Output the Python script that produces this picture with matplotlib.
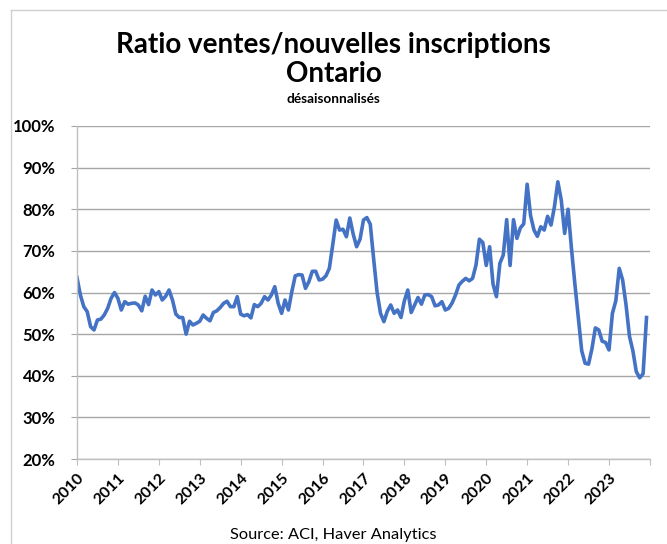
import matplotlib.pyplot as plt
from matplotlib.lines import Line2D
import numpy as np

# ratio ventes / nouvelles inscriptions, mensuel, en %
years = list(range(2010, 2024))
ratio_2010 = [63.6, 59.4, 56.6, 55.4, 51.8, 51.0, 53.4, 53.6, 54.6, 56.2, 58.6, 60.0]
ratio_2011 = [58.6, 55.8, 57.8, 57.2, 57.4, 57.5, 57.0, 55.6, 59.1, 57.1, 60.6, 59.4]
ratio_2012 = [60.2, 58.2, 59.1, 60.6, 58.2, 54.8, 54.0, 54.0, 50.0, 53.1, 52.2, 52.6]
ratio_2013 = [53.1, 54.6, 53.8, 53.2, 55.2, 55.6, 56.4, 57.4, 57.9, 56.6, 56.6, 59.0]
ratio_2014 = [54.8, 54.4, 54.7, 53.9, 57.1, 56.6, 57.4, 59.0, 58.2, 59.4, 61.4, 57.4]
ratio_2015 = [55.0, 58.2, 55.8, 60.2, 64.0, 64.3, 64.2, 61.0, 62.6, 65.1, 65.1, 63.0]
ratio_2016 = [63.2, 64.0, 65.8, 71.5, 77.4, 75.0, 75.2, 73.4, 77.9, 74.0, 71.0, 72.8]
ratio_2017 = [77.4, 78.0, 76.4, 68.0, 60.0, 55.0, 53.0, 55.5, 57.0, 55.0, 55.8, 54.0]
ratio_2018 = [58.0, 60.6, 55.2, 57.0, 58.8, 57.2, 59.4, 59.5, 59.0, 56.8, 57.0, 57.8]
ratio_2019 = [55.8, 56.2, 57.5, 59.4, 61.8, 62.7, 63.4, 62.8, 63.4, 66.6, 72.8, 72.0]
ratio_2020 = [66.5, 71.0, 62.0, 59.0, 67.0, 69.0, 77.5, 66.5, 77.5, 73.0, 75.5, 76.5]
ratio_2021 = [86.0, 78.5, 75.0, 73.5, 75.8, 75.0, 78.3, 76.2, 80.6, 86.6, 82.2, 74.2]
ratio_2022 = [80.0, 70.5, 62.0, 54.0, 46.0, 43.0, 42.8, 46.5, 51.5, 51.0, 48.3, 48.0]
ratio_2023 = [46.2, 55.0, 58.0, 65.8, 63.0, 57.0, 49.5, 46.0, 41.0, 39.5, 40.5, 54.0]

ratio = (ratio_2010 + ratio_2011 + ratio_2012 + ratio_2013 + ratio_2014
         + ratio_2015 + ratio_2016 + ratio_2017 + ratio_2018 + ratio_2019
         + ratio_2020 + ratio_2021 + ratio_2022 + ratio_2023)
dates = [y + m / 12 for y in years for m in range(12)]

year_ticks = list(range(2010, 2025))
year_labels = [str(y) for y in years] + [""]
pct_ticks = list(range(20, 101, 10))

plt.rcParams['font.family'] = ['Lato', 'DejaVu Sans']

fig = plt.figure(figsize=(6.67, 5.44), dpi=100)
ax = fig.add_axes([0.1154, 0.1562, 0.859, 0.6122])

ax.plot(dates, ratio, color="#4472C4", linewidth=2.6, solid_joinstyle="round")

ax.set_xlim(2010, 2024)
ax.set_ylim(20, 100)
ax.set_yticks(pct_ticks)
ax.set_yticklabels([f"{p}%" for p in pct_ticks], fontsize=12, fontweight="bold")
ax.set_xticks(year_ticks)
ax.set_xticklabels(year_labels, fontsize=11.5, fontweight="bold",
                   rotation=45, ha="right", rotation_mode="anchor")

ax.grid(axis="y", color="#a6a6a6", linewidth=1)
ax.set_axisbelow(True)
for side in ["top", "right"]:
    ax.spines[side].set_visible(False)
for side in ["left", "bottom"]:
    ax.spines[side].set_color("#bfbfbf")
    ax.spines[side].set_linewidth(1)
ax.tick_params(axis="y", length=4.5, color="#a6a6a6", pad=11)
ax.tick_params(axis="x", length=4.5, color="#bfbfbf", pad=4)

fig.text(0.5, 0.917, "Ratio ventes/nouvelles inscriptions", ha="center", va="center",
         fontsize=20, fontweight="bold")
fig.text(0.5, 0.864, "Ontario", ha="center", va="center",
         fontsize=20, fontweight="bold")
fig.text(0.5, 0.818, "désaisonnalisés", ha="center", va="center",
         fontsize=9.8, fontweight="bold")
fig.text(0.5, 0.017, "Source: ACI, Haver Analytics", ha="center", va="center",
         fontsize=11.8)

# cadre du graphique (coupé à droite et en bas)
fig.add_artist(Line2D([11 / 667, 11 / 667], [0, 1 - 10 / 544], color="#d0d0d0", linewidth=1))
fig.add_artist(Line2D([11 / 667, 1], [1 - 10 / 544, 1 - 10 / 544], color="#d0d0d0", linewidth=1))

fig.savefig("out.png", dpi=100)
